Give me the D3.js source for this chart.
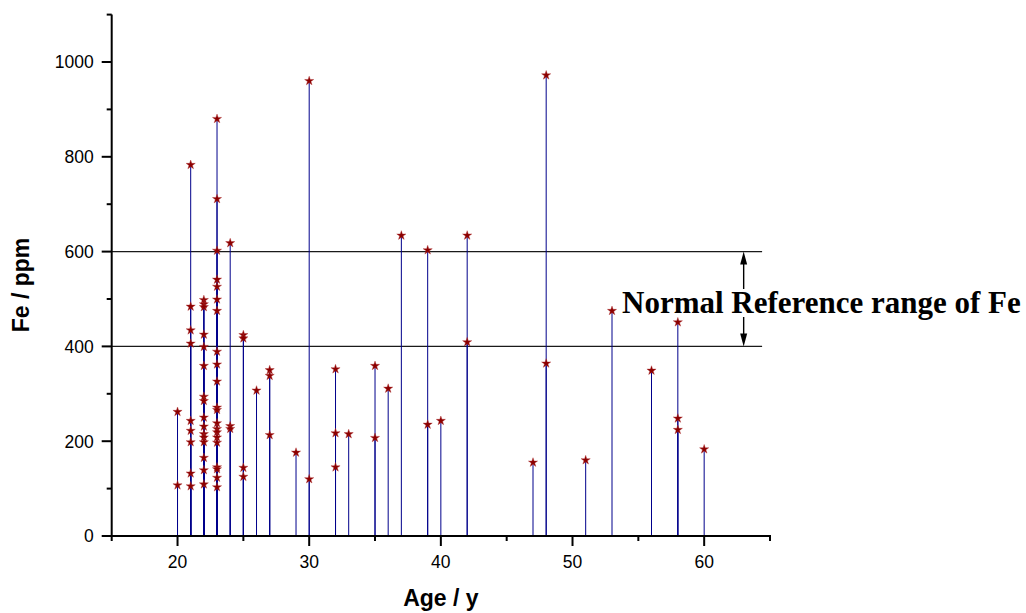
<!DOCTYPE html>
<html>
<head>
<meta charset="utf-8">
<script src="https://cdn.jsdelivr.net/npm/d3@7"></script>
<style>
  html, body { margin: 0; padding: 0; background: #fff; }
  svg { display: block; }
</style>
</head>
<body>
<script>
// ---- Data ----
const ages = [
  20, 20,
  21, 21, 21, 21, 21, 21, 21, 21, 21,
  22, 22, 22, 22, 22, 22, 22, 22, 22, 22, 22, 22, 22, 22, 22, 22,
  23, 23, 23, 23, 23, 23, 23, 23, 23, 23, 23, 23, 23, 23, 23, 23, 23, 23, 23, 23, 23,
  24, 24, 24,
  25, 25, 25, 25,
  26,
  27, 27, 27,
  29,
  30, 30,
  32, 32, 32,
  33,
  35, 35,
  36,
  37,
  39, 39,
  40,
  42, 42,
  47,
  48, 48,
  51,
  53,
  56,
  58, 58, 58,
  60
];
const fe = [
  262, 107,
  783, 484, 434, 406, 243, 222, 198, 132, 105,
  498, 489, 483, 425, 399, 359, 294, 285, 250, 231, 215, 208, 198, 165, 139, 109,
  880, 711, 602, 541, 526, 499, 475, 389, 362, 326, 271, 266, 238, 226, 219, 208, 197, 145, 141, 123, 103,
  618, 232, 226,
  424, 417, 144, 125,
  307,
  350, 338, 213,
  176,
  960, 120,
  352, 217, 145,
  215,
  359, 207,
  311,
  634,
  603, 235,
  243,
  634, 409,
  155,
  972, 364,
  160,
  475,
  349,
  451, 248, 224,
  183
];
const xMajorTicks = [20, 30, 40, 50, 60];
const xMinorTicks = [15, 25, 35, 45, 55, 65];
const yMajorTicks = [0, 200, 400, 600, 800, 1000];
const yMinorTicks = [100, 300, 500, 700, 900, 1100];
const refLimits = [400, 600];
const refLabel = "Normal Reference range of Fe";
const xTitle = "Age / y";
const yTitle = "Fe / ppm";

// ---- Layout ----
const W = 1026, H = 613;
const plot = { left: 111.7, right: 770, top: 14.6, bottom: 536 };

const svg = d3.select("body").append("svg").attr("width", W).attr("height", H);
svg.append("rect").attr("width", W).attr("height", H).attr("fill", "#fff");

const x = d3.scaleLinear().domain([15, 65]).range([plot.left, plot.right]);
const y = d3.scaleLinear().domain([0, 1100]).range([plot.bottom, plot.top]);

const pts = ages.map((a, i) => ({ age: a, v: fe[i] }));

// reference lines
const refEnd = 64.4, arrowAge = 63;
svg.append("g").selectAll("line").data(refLimits).join("line")
  .attr("x1", plot.left).attr("x2", x(refEnd))
  .attr("y1", d => y(d)).attr("y2", d => y(d))
  .attr("stroke", "#1a1a1a").attr("stroke-width", 1.4);

// drop lines
svg.append("g").selectAll("line").data(pts).join("line")
  .attr("x1", d => x(d.age)).attr("x2", d => x(d.age))
  .attr("y1", y(0)).attr("y2", d => y(d.v))
  .attr("stroke", "#00008B").attr("stroke-width", 1);

// star markers
const star = d3.symbol().type(d3.symbolStar).size(26);
svg.append("g").selectAll("path").data(pts).join("path")
  .attr("d", star)
  .attr("transform", d => `translate(${x(d.age)},${y(d.v)})`)
  .attr("fill", "#8B0000").attr("stroke", "#b03030").attr("stroke-width", 0.4);

// axes
const axisG = svg.append("g").attr("stroke", "#000");
axisG.append("line").attr("x1", plot.left).attr("x2", plot.left)
  .attr("y1", y(1100)).attr("y2", plot.bottom + 1).attr("stroke-width", 2);
axisG.append("line").attr("x1", plot.left - 1).attr("x2", x(65) + 1)
  .attr("y1", plot.bottom).attr("y2", plot.bottom).attr("stroke-width", 2);

// y ticks
axisG.selectAll(".ymaj").data(yMajorTicks).join("line")
  .attr("x1", plot.left - 10).attr("x2", plot.left)
  .attr("y1", d => y(d)).attr("y2", d => y(d)).attr("stroke-width", 2);
axisG.selectAll(".ymin").data(yMinorTicks).join("line")
  .attr("class", "ymin")
  .attr("x1", plot.left - 5).attr("x2", plot.left)
  .attr("y1", d => y(d)).attr("y2", d => y(d)).attr("stroke-width", 2);
// x ticks
axisG.selectAll(".xmaj").data(xMajorTicks).join("line")
  .attr("class", "xmaj")
  .attr("x1", d => x(d)).attr("x2", d => x(d))
  .attr("y1", plot.bottom).attr("y2", plot.bottom + 10).attr("stroke-width", 2);
axisG.selectAll(".xmin").data(xMinorTicks).join("line")
  .attr("class", "xmin")
  .attr("x1", d => x(d)).attr("x2", d => x(d))
  .attr("y1", plot.bottom).attr("y2", plot.bottom + 5).attr("stroke-width", 2);

const tickFont = "Liberation Sans, Arial, sans-serif";
svg.append("g").selectAll("text").data(yMajorTicks).join("text")
  .attr("x", plot.left - 18).attr("y", d => y(d))
  .attr("dy", "0.36em").attr("text-anchor", "end")
  .attr("font-family", tickFont).attr("font-size", 17.5).attr("fill", "#000")
  .text(d => d);
svg.append("g").selectAll("text").data(xMajorTicks).join("text")
  .attr("x", d => x(d)).attr("y", plot.bottom + 32)
  .attr("text-anchor", "middle")
  .attr("font-family", tickFont).attr("font-size", 17.5).attr("fill", "#000")
  .text(d => d);

// axis titles
svg.append("text")
  .attr("x", (plot.left + plot.right) / 2).attr("y", 606)
  .attr("text-anchor", "middle")
  .attr("font-family", tickFont).attr("font-weight", "bold").attr("font-size", 23)
  .text(xTitle);
svg.append("text")
  .attr("transform", `translate(29,285) rotate(-90)`)
  .attr("text-anchor", "middle")
  .attr("font-family", tickFont).attr("font-weight", "bold").attr("font-size", 23)
  .text(yTitle);

// double arrow with gap for the label
const ax = x(arrowAge);
const yTop = y(refLimits[1]), yBot = y(refLimits[0]);
const gapTop = 289, gapBot = 317;
const arrowG = svg.append("g");
arrowG.append("line").attr("x1", ax).attr("x2", ax).attr("y1", yTop + 6).attr("y2", gapTop)
  .attr("stroke", "#000").attr("stroke-width", 1.4);
arrowG.append("line").attr("x1", ax).attr("x2", ax).attr("y1", gapBot).attr("y2", yBot - 6)
  .attr("stroke", "#000").attr("stroke-width", 1.4);
arrowG.append("path")
  .attr("d", `M${ax},${yTop} L${ax - 3.5},${yTop + 13} L${ax + 3.5},${yTop + 13} Z`)
  .attr("fill", "#000");
arrowG.append("path")
  .attr("d", `M${ax},${yBot} L${ax - 3.5},${yBot - 13} L${ax + 3.5},${yBot - 13} Z`)
  .attr("fill", "#000");

svg.append("text")
  .attr("x", 622).attr("y", 313)
  .attr("font-family", "Liberation Serif, Times New Roman, serif")
  .attr("font-weight", "bold").attr("font-size", 31).attr("fill", "#000")
  .text(refLabel);
</script>
</body>
</html>
